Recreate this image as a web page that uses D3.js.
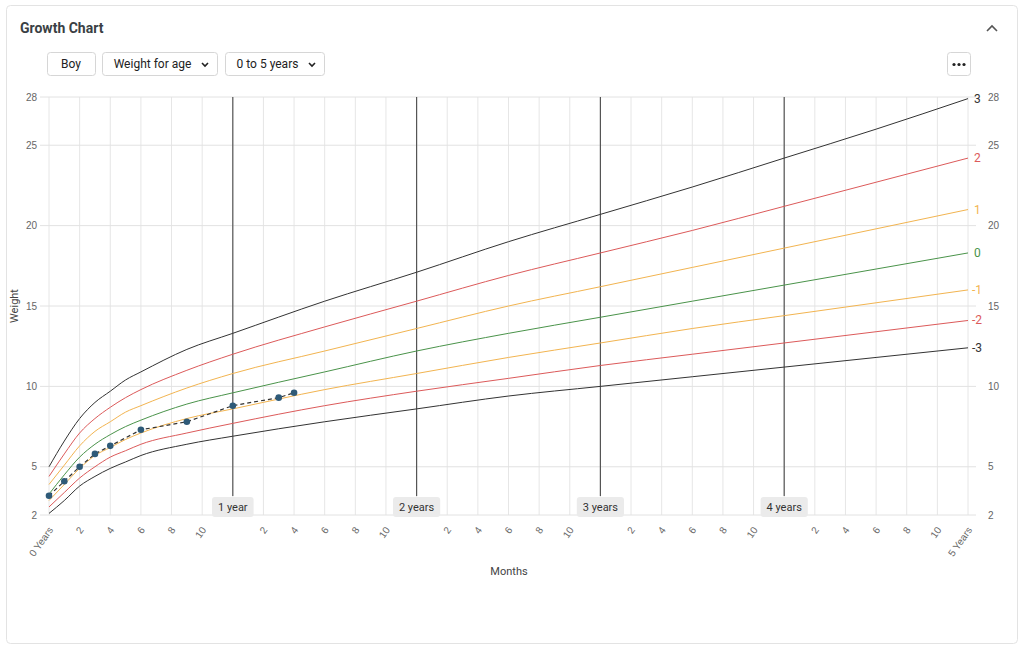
<!DOCTYPE html>
<html><head><meta charset="utf-8">
<script src="https://cdn.jsdelivr.net/npm/d3@7"></script>
<style>
body{margin:0;background:#fff;font-family:"Helvetica Neue",Roboto,"Liberation Sans",Arial,sans-serif;}
</style></head>
<body><svg id="c" width="1024" height="646"></svg>
<script>
// WHO weight-for-age, boys 0-5 years
const months = [0,1,2,3,4,5,6,9,12,18,24,30,36,42,48,54,60];
const sdM3 = [2.1,2.9,3.8,4.4,4.9,5.3,5.7,6.4,6.9,7.8,8.6,9.4,10.0,10.6,11.2,11.8,12.4];
const sdM2 = [2.5,3.4,4.3,5.0,5.6,6.0,6.4,7.1,7.7,8.8,9.7,10.5,11.3,12.0,12.7,13.4,14.1];
const sdM1 = [2.9,3.9,4.9,5.7,6.2,6.7,7.1,8.0,8.6,9.8,10.8,11.8,12.7,13.6,14.4,15.2,16.0];
const sd0  = [3.3,4.5,5.6,6.4,7.0,7.5,7.9,8.9,9.6,10.9,12.2,13.3,14.3,15.3,16.3,17.3,18.3];
const sdP1 = [3.9,5.1,6.3,7.2,7.8,8.4,8.8,9.9,10.8,12.2,13.6,15.0,16.2,17.4,18.6,19.8,21.0];
const sdP2 = [4.4,5.8,7.1,8.0,8.7,9.3,9.8,11.0,12.0,13.7,15.3,16.9,18.3,19.7,21.2,22.7,24.2];
const sdP3 = [5.0,6.6,8.0,9.0,9.7,10.4,10.9,12.3,13.3,15.3,17.1,19.0,20.7,22.4,24.2,26.0,27.9];
const curves = [
  {label:"3", values:sdP3, color:"#333"},
  {label:"2", values:sdP2, color:"#dc5a5a"},
  {label:"1", values:sdP1, color:"#f2b450"},
  {label:"0", values:sd0, color:"#4a934a"},
  {label:"-1", values:sdM1, color:"#f2b450"},
  {label:"-2", values:sdM2, color:"#dc5a5a"},
  {label:"-3", values:sdM3, color:"#333"}
];
const childMonths = [0,1,2,3,4,6,9,12,15,16];
const childWeight = [3.2,4.1,5.0,5.8,6.3,7.3,7.8,8.8,9.3,9.6];
const yTicks = [2,5,10,15,20,25,28];
const yearLabels = ["1 year","2 years","3 years","4 years"];

const svg = d3.select("#c");
svg.append("rect").attr("x",6.5).attr("y",5.5).attr("width",1011).attr("height",638)
  .attr("rx",4).attr("fill","#fff").attr("stroke","#e3e3e3");
svg.append("text").attr("x",20).attr("y",33).text("Growth Chart")
  .attr("font-size",14).attr("font-weight","bold").attr("fill","#3a3f44");
svg.append("path").attr("d","M987,31 L992,26 L997,31").attr("fill","none").attr("stroke","#555").attr("stroke-width",1.6);

// buttons
const buttons = [{t:"Boy",x:47,w:48,c:false},{t:"Weight for age",x:102,w:115,c:true},{t:"0 to 5 years",x:225,w:99,c:true}];
buttons.forEach(b=>{
  const g = svg.append("g");
  g.append("rect").attr("x",b.x+0.5).attr("y",52.5).attr("width",b.w).attr("height",23).attr("rx",3)
    .attr("fill","#fff").attr("stroke","#d6d6d6");
  g.append("text").attr("x",b.c? b.x+b.w/2-7 : b.x+b.w/2).attr("y",68).attr("text-anchor","middle")
    .attr("font-size",12).attr("fill","#222").text(b.t);
  if(b.c){
    const cx=b.x+b.w-12;
    g.append("path").attr("d",`M${cx-3},63 L${cx},66 L${cx+3},63`).attr("fill","none").attr("stroke","#222").attr("stroke-width",1.6);
  }
});
svg.append("rect").attr("x",947.5).attr("y",52.5).attr("width",23).attr("height",23).attr("rx",3).attr("fill","#fff").attr("stroke","#d6d6d6");
[-5,0,5].forEach(d=>svg.append("circle").attr("cx",959+d).attr("cy",64.5).attr("r",1.6).attr("fill","#222"));

const x = d3.scaleLinear().domain([0,60]).range([49,968]);
const y = d3.scaleLinear().domain([2,28]).range([515,97]);

// grid
const grid = svg.append("g");
d3.range(0,61,2).forEach(m=>{
  grid.append("line").attr("x1",x(m)).attr("x2",x(m)).attr("y1",97).attr("y2",515)
    .attr("stroke","#e6e6e6");
});
yTicks.forEach(v=>{
  grid.append("line").attr("x1",40).attr("x2",976).attr("y1",y(v)).attr("y2",y(v)).attr("stroke","#e2e2e2");
});

// y axes
const yl = svg.append("g").attr("transform","translate(40,0)").call(d3.axisLeft(y).tickValues(yTicks).tickSize(0).tickPadding(3));
const yr = svg.append("g").attr("transform","translate(984,0)").call(d3.axisRight(y).tickValues(yTicks).tickSize(0).tickPadding(3));
[yl,yr].forEach(a=>{a.select(".domain").remove();a.selectAll("text").attr("font-size",10).attr("fill","#666").attr("font-family","inherit");});
yr.selectAll("text").attr("x",4);

// x axis labels
const xTicks = d3.range(0,61,2).filter(m=>m%12!==0 || m===0 || m===60);
const xa = svg.append("g").attr("transform","translate(0,515)")
  .call(d3.axisBottom(x).tickValues(xTicks).tickSize(0).tickPadding(0)
    .tickFormat(m=> m===0 ? "0 Years" : m===60 ? "5 Years" : String(m%12)));
xa.select(".domain").remove();
xa.selectAll("text").attr("font-size",10).attr("fill","#666").attr("font-family","inherit")
  .attr("text-anchor","end").attr("dy",0).attr("transform","translate(4,15) rotate(-55)");

// year lines
yearLabels.forEach((l,i)=>{
  const xx = x((i+1)*12);
  const w = l.length*5.6+8;
  svg.append("line").attr("x1",xx).attr("x2",xx).attr("y1",97).attr("y2",496).attr("stroke","#555").attr("stroke-width",1.2);
  svg.append("rect").attr("x",xx-w/2).attr("y",497).attr("width",w).attr("height",20).attr("rx",3).attr("fill","#ebebeb");
  svg.append("text").attr("x",xx).attr("y",511).attr("text-anchor","middle").attr("font-size",11).attr("fill","#333").text(l);
});

// curves
const line = d3.line().x((d,i)=>x(months[i])).y(d=>y(d)).curve(d3.curveMonotoneX);
curves.forEach(c=>{
  svg.append("path").attr("d",line(c.values)).attr("fill","none").attr("stroke",c.color).attr("stroke-width",1);
  svg.append("text").attr("x",c.label.startsWith("-")?972:974).attr("y",y(c.values[c.values.length-1])+4)
    .attr("font-size",12).attr("fill",c.color).text(c.label);
});

// child
const cl = d3.line().x((d,i)=>x(childMonths[i])).y(d=>y(d));
svg.append("path").attr("d",cl(childWeight)).attr("fill","none").attr("stroke","#333").attr("stroke-dasharray","4,3").attr("stroke-width",1.2);
svg.selectAll(".pt").data(childWeight).join("circle").attr("cx",(d,i)=>x(childMonths[i])).attr("cy",d=>y(d))
  .attr("r",3.3).attr("fill","#2e5a78");

svg.append("text").attr("x",509).attr("y",575).attr("text-anchor","middle").attr("font-size",11).attr("fill","#444").text("Months");
svg.append("text").attr("transform","translate(18,306) rotate(-90)").attr("text-anchor","middle").attr("font-size",11).attr("fill","#444").text("Weight");
</script></body></html>
